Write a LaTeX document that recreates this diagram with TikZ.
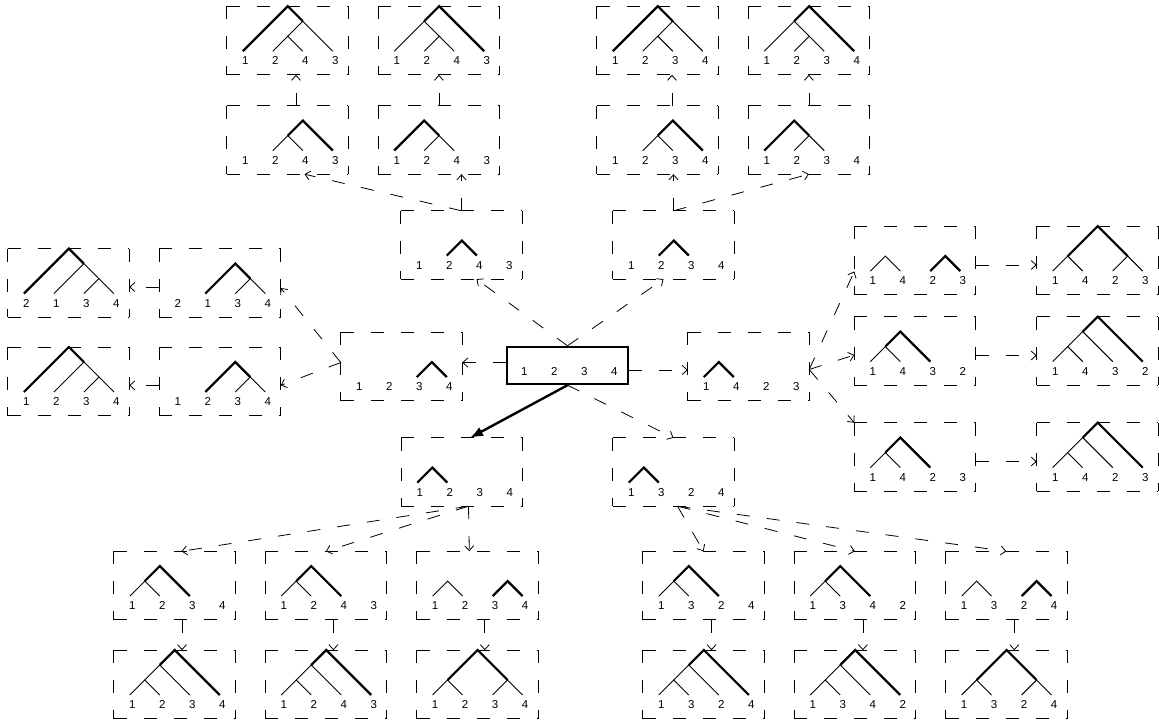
\documentclass[tikz,border=0pt]{standalone}
\usepackage{fontspec}
\setmainfont{Liberation Sans}
\usetikzlibrary{arrows.meta,positioning,calc}

\newcommand{\taxa}[2]{%
  \foreach \t [count=\n from 0] in {#2}
    \node[taxon] (#1-\n) at ($(#1.south west)+({18.5+30*\n},14)$) {\t};}
\newcommand{\clade}[5][twig]{%
  \draw[#1] ($(#2.south west)+({16+15*(#3+#4)},{23.6+15*(#4-#3)})$)
    -- ($(#2.south west)+({16+15*(#3+#5)},{23.6+15*(#5-#3)})$)
    -- ($(#2.south west)+({16+15*(#4+1+#5)},{23.6+15*(#5-#4-1)})$);}

\begin{document}
\begin{tikzpicture}[
    x=1pt, y=1pt,
    node distance=30pt,
    tbox/.style={rectangle, inner sep=0pt, minimum width=121pt, minimum height=68pt},
    rootbox/.style={draw, line width=2.4pt, inner sep=0pt, minimum width=121pt, minimum height=37pt},
    taxon/.style={inner sep=0pt, font=\fontsize{11.5}{12}\selectfont},
    boxline/.style={line width=0.9pt, dash pattern=on 13pt off 17pt},
    twig/.style={line width=0.9pt},
    newtwig/.style={line width=2.2pt},
    arrow/.style={-{Straight Barb[length=5pt,width=9pt]}, line width=0.8pt, dash pattern=on 13pt off 17pt},
    bigarrow/.style={-{Latex[length=13pt,width=10pt]}, line width=2.4pt}
  ]
    \useasboundingbox (0,0) rectangle (1159,721);
    \node[rootbox] (ctr) at (567.5,355.5) {};
    \node[tbox] (c1) at (461.5,476) {};
    \node[tbox] (c2) at (673.5,476) {};
    \node[tbox] (c3) at (401.5,354.5) {};
    \node[tbox] (c4) at (748.5,354.5) {};
    \node[tbox] (c5) at (462,249) {};
    \node[tbox] (c6) at (673.5,249) {};
    \node[tbox] (b1) at (287.5,581) {};
    \node[tbox, right=of b1] (b2) {};
    \node[tbox, above=31pt of b1] (a1) {};
    \node[tbox, right=of a1] (a2) {};
    \node[tbox] (b3) at (657.5,581) {};
    \node[tbox, right=of b3] (b4) {};
    \node[tbox, above=31pt of b3] (a3) {};
    \node[tbox, right=of a3] (a4) {};
    \node[tbox] (d1) at (220,438) {};
    \node[tbox, left=of d1] (e1) {};
    \node[tbox, below=of d1] (d2) {};
    \node[tbox, left=of d2] (e2) {};
    \node[tbox] (f1) at (915,460.5) {};
    \node[tbox] (f2) at (915,370) {};
    \node[tbox] (f3) at (915,264) {};
    \node[tbox, right=61pt of f1] (g1) {};
    \node[tbox, right=61pt of f2] (g2) {};
    \node[tbox, right=61pt of f3] (g3) {};
    \node[tbox] (h1) at (174.5,135.5) {};
    \node[tbox, right=of h1] (h2) {};
    \node[tbox, right=of h2] (h3) {};
    \node[tbox, below=30.5pt of h1] (i1) {};
    \node[tbox, below=30.5pt of h2] (i2) {};
    \node[tbox, below=30.5pt of h3] (i3) {};
    \node[tbox] (j1) at (703.5,135.5) {};
    \node[tbox, right=of j1] (j2) {};
    \node[tbox, right=of j2] (j3) {};
    \node[tbox, below=30.5pt of j1] (k1) {};
    \node[tbox, below=30.5pt of j2] (k2) {};
    \node[tbox, below=30.5pt of j3] (k3) {};

    \foreach \b in {a1,a2,a3,a4,b1,b2,b3,b4,c1,c2,c3,c4,c5,c6,d1,d2,e1,e2,f1,f2,f3,g1,g2,g3,h1,h2,h3,i1,i2,i3,j1,j2,j3,k1,k2,k3}
      \draw[boxline] (\b.north west) -- (\b.north east) (\b.south west) -- (\b.south east)
        (\b.north west) -- (\b.south west) (\b.north east) -- (\b.south east);

    \foreach \b in {a1,a2,b1,b2,c1,h2,i2} {\taxa{\b}{1,2,4,3}}
    \foreach \b in {ctr,a3,a4,b3,b4,c2,c3,c5,d2,e2,h1,i1,h3,i3} {\taxa{\b}{1,2,3,4}}
    \foreach \b in {c4,f1,g1,f3,g3} {\taxa{\b}{1,4,2,3}}
    \foreach \b in {f2,g2} {\taxa{\b}{1,4,3,2}}
    \foreach \b in {d1,e1} {\taxa{\b}{2,1,3,4}}
    \foreach \b in {c6,j1,k1,j3,k3} {\taxa{\b}{1,3,2,4}}
    \foreach \b in {j2,k2} {\taxa{\b}{1,3,4,2}}

    \foreach \b in {a1,a3} {\clade{\b}{1}{1}{2} \clade{\b}{1}{2}{3} \clade[newtwig]{\b}{0}{0}{3}}
    \foreach \b in {a2,a4} {\clade{\b}{1}{1}{2} \clade{\b}{0}{0}{2} \clade[newtwig]{\b}{0}{2}{3}}
    \foreach \b in {b1,b3} {\clade{\b}{1}{1}{2} \clade[newtwig]{\b}{1}{2}{3}}
    \foreach \b in {b2,b4} {\clade{\b}{1}{1}{2} \clade[newtwig]{\b}{0}{0}{2}}
    \foreach \b in {c1,c2} {\clade[newtwig]{\b}{1}{1}{2}}
    \clade[newtwig]{c3}{2}{2}{3}
    \foreach \b in {c4,c5,c6} {\clade[newtwig]{\b}{0}{0}{1}}
    \foreach \b in {d1,d2} {\clade{\b}{2}{2}{3} \clade[newtwig]{\b}{1}{1}{3}}
    \foreach \b in {e1,e2} {\clade{\b}{2}{2}{3} \clade{\b}{1}{1}{3} \clade[newtwig]{\b}{0}{0}{3}}
    \foreach \b in {f1,h3,j3} {\clade{\b}{0}{0}{1} \clade[newtwig]{\b}{2}{2}{3}}
    \foreach \b in {g1,i3,k3} {\clade{\b}{0}{0}{1} \clade{\b}{2}{2}{3} \clade[newtwig]{\b}{0}{1}{3}}
    \foreach \b in {f2,f3,h1,h2,j1,j2} {\clade{\b}{0}{0}{1} \clade[newtwig]{\b}{0}{1}{2}}
    \foreach \b in {g2,g3,i1,i2,k1,k2} {\clade{\b}{0}{0}{1} \clade{\b}{0}{1}{2} \clade[newtwig]{\b}{0}{2}{3}}

    \draw[arrow] (ctr.north) -- ([xshift=15pt]c1.south);
    \draw[arrow] (ctr.north) -- ([xshift=-10pt]c2.south);
    \draw[arrow] ([yshift=3pt]ctr.west) -- ([yshift=4pt]c3.east);
    \draw[arrow] ([yshift=-4.5pt]ctr.east) -- ([yshift=-3.5pt]c4.west);
    \draw[bigarrow] (ctr.south) -- ([xshift=8pt]c5.north);
    \draw[arrow] (ctr.south) -- (c6.north);

    \draw[arrow] (c1.north) -- ([xshift=17pt]b1.south);
    \draw[arrow] (c1.north) -- (c1.north |- b2.south);
    \draw[arrow] (c2.north) -- (c2.north |- b3.south);
    \draw[arrow] (c2.north) -- (b4.south);
    \draw[arrow] ([xshift=8.5pt]b1.north) -- ([xshift=8.5pt]a1.south);
    \draw[arrow] (b2.north) -- (a2.south);
    \draw[arrow] ([xshift=14.5pt]b3.north) -- ([xshift=14.5pt]a3.south);
    \draw[arrow] (b4.north) -- (a4.south);

    \draw[arrow] ([yshift=4pt]c3.west) -- ([yshift=-5pt]d1.east);
    \draw[arrow] ([yshift=4pt]c3.west) -- ([yshift=-4pt]d2.east);
    \draw[arrow] ([yshift=-4pt]d1.west) -- ([yshift=-4pt]e1.east);
    \draw[arrow] ([yshift=-4pt]d2.west) -- ([yshift=-4pt]e2.east);

    \draw[arrow] ([yshift=-3pt]c4.east) -- ([yshift=-11pt]f1.west);
    \draw[arrow] ([yshift=-3pt]c4.east) -- ([yshift=-4pt]f2.west);
    \draw[arrow] ([yshift=-3pt]c4.east) -- (f3.north west);
    \foreach \r in {1,2,3} \draw[arrow] ([yshift=-4.5pt]f\r.east) -- ([yshift=-4.5pt]g\r.west);

    \draw[arrow] ([xshift=6.5pt]c5.south) -- ([xshift=7pt]h1.north);
    \draw[arrow] ([xshift=6.5pt]c5.south) -- (h2.north);
    \draw[arrow] ([xshift=6.5pt]c5.south) -- ([xshift=-8pt]h3.north);
    \foreach \r in {1,2,3} \draw[arrow] ([xshift=7.5pt]h\r.south) -- ([xshift=7.5pt]i\r.north);
    \foreach \r in {1,2,3} \draw[arrow] ([xshift=4pt]c6.south) -- (j\r.north);
    \foreach \r in {1,2,3} \draw[arrow] ([xshift=8pt]j\r.south) -- ([xshift=8pt]k\r.north);
  \end{tikzpicture}
\end{document}
